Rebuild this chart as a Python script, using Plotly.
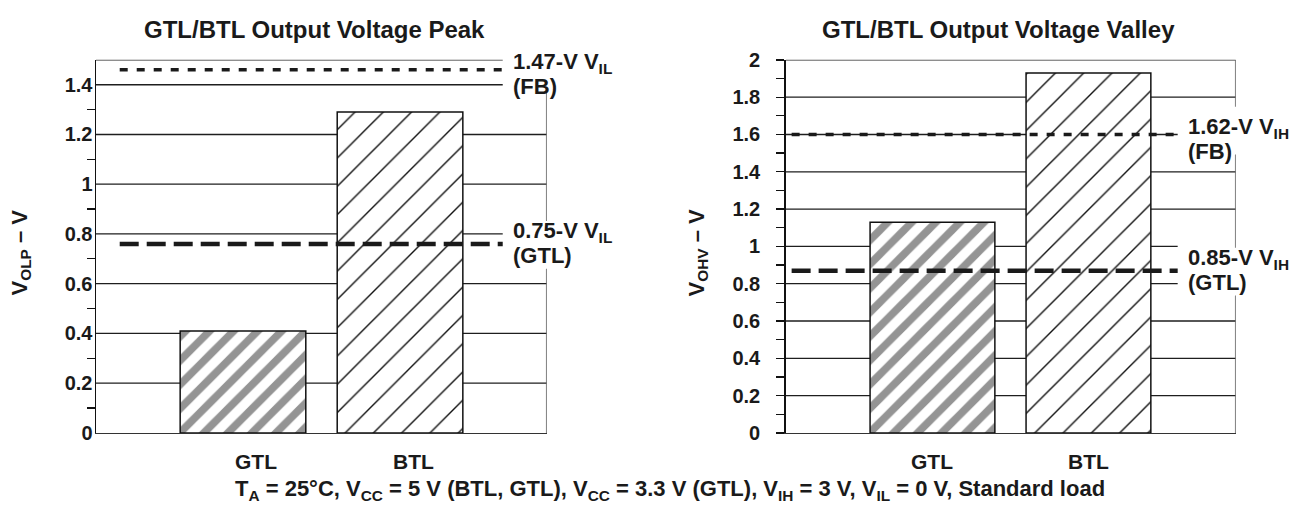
import plotly.graph_objects as go

# ---------------- data ----------------
categories = ["GTL", "BTL"]
peak_values = [0.41, 1.29]
valley_values = [1.13, 1.93]

peak_ref_levels = [1.46, 0.76]          # drawn level of FB and GTL thresholds
valley_ref_levels = [1.60, 0.87]
peak_ref_labels = ["1.47-V V<sub>IL</sub>", "0.75-V V<sub>IL</sub>"]
valley_ref_labels = ["1.62-V V<sub>IH</sub>", "0.85-V V<sub>IH</sub>"]
ref_sources = ["(FB)", "(GTL)"]

peak_yticks = [0, 0.2, 0.4, 0.6, 0.8, 1, 1.2, 1.4]
peak_ytick_text = ["0", "0.2", "0.4", "0.6", "0.8", "1", "1.2", "1.4"]
valley_yticks = [0, 0.2, 0.4, 0.6, 0.8, 1, 1.2, 1.4, 1.6, 1.8, 2]
valley_ytick_text = ["0", "0.2", "0.4", "0.6", "0.8", "1", "1.2", "1.4", "1.6", "1.8", "2"]
peak_minor = [0.1, 0.3, 0.5, 0.7, 0.9, 1.1, 1.3]
valley_minor = [0.1, 0.3, 0.5, 0.7, 0.9, 1.1, 1.3, 1.5, 1.7, 1.9]

titles = ["GTL/BTL Output Voltage Peak", "GTL/BTL Output Voltage Valley"]
y_titles = ["V<sub>OLP</sub> – V", "V<sub>OHV</sub> – V"]
caption = ("T<sub>A</sub> = 25°C, V<sub>CC</sub> = 5 V (BTL, GTL), V<sub>CC</sub> = 3.3 V (GTL), "
           "V<sub>IH</sub> = 3 V, V<sub>IL</sub> = 0 V, Standard load")

# ---------------- style / layout ----------------
W, H = 1301, 525
FONT = "Liberation Sans, Arial, Helvetica, sans-serif"
INK = "#1a1a1a"
positions = [1, 2]
BAR_W = 0.8
PLOT_TOP, PLOT_BOT = 51, 440.4
ydom = [1 - PLOT_BOT / H, 1 - PLOT_TOP / H]


def bold(size):
    return dict(family=FONT, size=size, color=INK, weight="bold")


panels = [
    dict(xa="x", ya="y", xaxis="xaxis", yaxis="yaxis",
         xdom=[96 / W, 546.7 / W], xr=[0.064, 2.934], ymax=1.5,
         values=peak_values, levels=peak_ref_levels, labels=peak_ref_labels,
         yticks=peak_yticks, yticktext=peak_ytick_text, minor=peak_minor,
         major_ticks="", standoff=-2,
         label_x=2.707, cut_x=2.654, ref_x0=0.215, xlab_shift=13,
         title_x=314, ytitle_x=21),
    dict(xa="x2", ya="y2", xaxis="xaxis2", yaxis="yaxis2",
         xdom=[785.7 / W, 1235.7 / W], xr=[0.059, 2.944], ymax=2.0,
         values=valley_values, levels=valley_ref_levels, labels=valley_ref_labels,
         yticks=valley_yticks, yticktext=valley_ytick_text, minor=valley_minor,
         major_ticks="outside", standoff=12,
         label_x=2.625, cut_x=2.572, ref_x0=0.097, xlab_shift=0,
         title_x=998, ytitle_x=698),
]

ref_styles = [dict(dash="8px,9px", width=3.5), dict(dash="19px,8px", width=4.5)]
label_yshift = [-4, 1]      # label block centre relative to its line (px)
LINE_GAP = 12.8             # half distance between the two label lines (px)
GRID = "#1e1e1e"

fig = go.Figure()
shapes, annotations = [], []
layout = dict(width=W, height=H, margin=dict(l=0, r=0, t=0, b=0),
              paper_bgcolor="white", plot_bgcolor="white", showlegend=False,
              font=dict(family=FONT, size=20, color=INK))

for p in panels:
    px_per_unit = (PLOT_BOT - PLOT_TOP) / p["ymax"]
    fig.add_trace(go.Bar(
        x=positions, y=p["values"], width=BAR_W, xaxis=p["xa"], yaxis=p["ya"],
        hoverinfo="skip",
        marker=dict(color="white", line=dict(color="#111111", width=1.5),
                    pattern=dict(shape="/", fillmode="replace",
                                 fgcolor=["#949494", "#111111"], bgcolor="white",
                                 size=[17, 20], solidity=[0.45, 0.07])),
    ))
    layout[p["xaxis"]] = dict(domain=p["xdom"], range=p["xr"], showgrid=False, zeroline=False,
                              showticklabels=False, ticks="", showline=True,
                              linecolor="#333333", linewidth=1.5, anchor=p["ya"], fixedrange=True)
    layout[p["yaxis"]] = dict(domain=ydom, range=[0, p["ymax"]], showgrid=False, zeroline=False,
                              showline=True, linecolor="#111111", linewidth=1.5,
                              tickvals=p["yticks"], ticktext=p["yticktext"],
                              ticks=p["major_ticks"], ticklen=8, tickwidth=1.3, tickcolor="#111111",
                              ticklabelstandoff=p["standoff"],
                              tickfont=bold(20),
                              minor=dict(tickvals=p["minor"], ticks="outside", ticklen=8,
                                         tickwidth=1.3, tickcolor="#111111", showgrid=False),
                              anchor=p["xa"], fixedrange=True)

    label_centres = [lv + (-ys) / px_per_unit for lv, ys in zip(p["levels"], label_yshift)]

    # grid lines (incl. top frame line), shortened where a label sits
    grid_vals = [v for v in p["yticks"] if v > 0]
    if p["ymax"] not in grid_vals:
        grid_vals.append(p["ymax"])
    for v in grid_vals:
        near = any(abs(v - c) * px_per_unit < 28 for c in label_centres)
        shapes.append(dict(type="line", xref=p["xa"], yref=p["ya"], x0=p["xr"][0],
                           x1=p["cut_x"] if near else p["xr"][1], y0=v, y1=v,
                           line=dict(color=GRID, width=1.3), layer="below"))

    # right vertical frame line with gaps at labels
    gap = 25 / px_per_unit
    segs, lo = [], 0
    for c in sorted(label_centres):
        if c - gap > lo:
            segs.append((lo, c - gap))
        lo = c + gap
    if lo < p["ymax"]:
        segs.append((lo, p["ymax"]))
    for a, b in segs:
        shapes.append(dict(type="line", xref=p["xa"], yref=p["ya"], x0=p["xr"][1], x1=p["xr"][1],
                           y0=a, y1=b, line=dict(color="#555555", width=1.5), layer="below"))

    # reference threshold lines + two-line labels
    for lv, lab, src, st, ys in zip(p["levels"], p["labels"], ref_sources, ref_styles, label_yshift):
        shapes.append(dict(type="line", xref=p["xa"], yref=p["ya"], x0=p["ref_x0"], x1=p["cut_x"],
                           y0=lv, y1=lv, line=dict(color=INK, width=st["width"], dash=st["dash"]),
                           layer="above"))
        annotations.append(dict(xref=p["xa"], yref=p["ya"], x=p["label_x"], y=lv,
                                yshift=ys + LINE_GAP - 2, text=lab, showarrow=False,
                                xanchor="left", yanchor="middle", align="left", font=bold(22)))
        annotations.append(dict(xref=p["xa"], yref=p["ya"], x=p["label_x"], y=lv,
                                yshift=ys - LINE_GAP, text=src, showarrow=False,
                                xanchor="left", yanchor="middle", align="left", font=bold(22)))

    # category labels
    for pos, cat in zip(positions, categories):
        annotations.append(dict(xref=p["xa"], yref="paper", x=pos, y=1 - 470 / H, xshift=p["xlab_shift"],
                                text=cat, showarrow=False, xanchor="center", yanchor="middle",
                                font=bold(21)))

for p, t, yt in zip(panels, titles, y_titles):
    annotations.append(dict(xref="paper", yref="paper", x=p["title_x"] / W, y=1 - 19 / H, text=t,
                            showarrow=False, xanchor="center", yanchor="middle", font=bold(24)))
    annotations.append(dict(xref="paper", yref="paper", x=p["ytitle_x"] / W, y=1 - 252 / H, text=yt,
                            showarrow=False, xanchor="center", yanchor="middle", textangle=-90,
                            font=bold(22)))

annotations.append(dict(xref="paper", yref="paper", x=670 / W, y=1 - 500 / H, text=caption,
                        showarrow=False, xanchor="center", yanchor="middle", font=bold(22)))

layout["shapes"] = shapes
layout["annotations"] = annotations
fig.update_layout(**layout)

fig.write_html("out.html", config={"displayModeBar": False, "staticPlot": True},
               post_script="document.body.style.margin='0';")
